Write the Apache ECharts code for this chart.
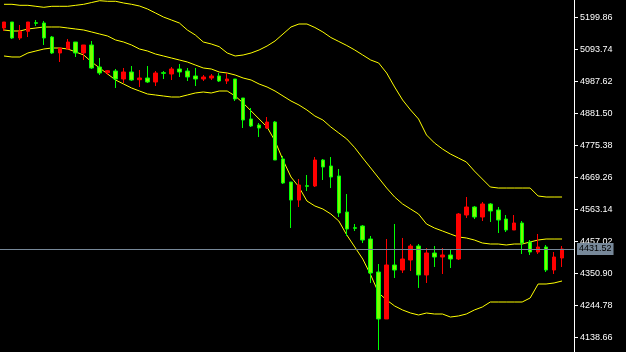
<!DOCTYPE html>
<html>
<head>
<meta charset="utf-8">
<script src="https://cdn.jsdelivr.net/npm/echarts@6/dist/echarts.min.js"></script>
<style>
html,body{margin:0;padding:0;background:#000;}
#chart{width:626px;height:352px;}
</style>
</head>
<body>
<div id="chart"></div>
<script>
// ---- data ----
const opens = [5164.3,5184.2,5131.2,5153.4,5181.9,5180.9,5134.5,5081.5,5094.7,5117.9,
5081.5,5108.0,5035.0,5016.1,5021.7,4995.2,5018.4,4992.9,4998.5,4985.3,
5016.1,5011.8,5028.4,5021.7,5005.2,4995.2,4998.5,5005.2,4988.6,4995.2,
4932.2,4862.6,4842.7,4832.7,4852.6,4729.9,4653.7,4593.8,4641.4,4640.4,
4726.6,4706.7,4673.5,4554.1,4502.1,4507.7,4464.6,4355.2,4199.4,4378.4,
4361.8,4395.0,4441.4,4345.3,4418.2,4404.9,4411.6,4398.3,4544.2,4570.7,
4537.6,4580.7,4560.8,4530.9,4494.5,4517.7,4454.7,4421.5,4438.1,4361.8,
4401.6];
const closes = [5184.2,5131.2,5153.4,5184.2,5179.9,5131.2,5081.5,5098.0,5117.9,5081.5,
5108.0,5031.7,5015.1,5022.7,4995.2,5018.4,4991.9,4998.5,4985.3,5015.1,
5014.1,5028.4,5018.4,5001.9,4995.2,5001.9,5005.2,4988.6,4995.2,4928.9,
4859.3,4839.4,4832.7,4852.6,4726.6,4650.3,4593.8,4643.7,4639.4,4726.6,
4703.4,4670.2,4550.8,4497.8,4500.1,4461.3,4351.9,4199.4,4378.4,4361.8,
4398.3,4441.4,4345.3,4418.2,4404.9,4411.6,4398.3,4547.5,4570.7,4537.6,
4580.7,4557.5,4527.6,4494.5,4517.7,4451.4,4421.5,4438.1,4361.8,4404.9,
4431.52];
const lows = [5154.4,5127.9,5124.6,5134.5,5171.0,5108.0,5078.1,5051.6,5094.7,5068.2,
5058.2,5028.4,5008.5,5008.5,4965.4,4981.9,4988.6,4968.7,4981.9,4972.0,
4995.2,4991.9,5001.9,4988.6,4972.0,4988.6,4991.9,4985.3,4978.6,4922.3,
4832.7,4836.0,4802.9,4829.4,4726.6,4647.0,4501.1,4570.7,4623.8,4637.1,
4660.3,4633.7,4537.6,4474.6,4491.2,4451.4,4318.8,4096.5,4199.4,4335.3,
4351.9,4358.5,4302.3,4318.8,4371.8,4348.6,4368.5,4395.0,4534.3,4530.9,
4524.3,4521.0,4484.5,4487.8,4494.5,4414.9,4411.6,4414.9,4355.2,4348.6,
4371.8];
const highs = [5184.2,5184.2,5174.3,5184.2,5190.9,5187.6,5137.8,5098.0,5127.9,5117.9,
5108.0,5121.2,5064.9,5025.1,5028.4,5031.7,5038.3,5025.1,5038.3,5021.7,
5021.7,5035.0,5045.0,5031.7,5031.7,5008.5,5011.8,5015.1,5015.1,4995.2,
4932.2,4899.1,4849.3,4869.2,4855.9,4739.9,4653.7,4663.6,4676.9,4736.5,
4729.9,4736.5,4696.8,4613.8,4514.4,4511.0,4474.6,4381.7,4464.6,4514.4,
4468.0,4448.0,4448.0,4434.8,4441.4,4434.8,4428.1,4550.8,4603.9,4574.1,
4587.3,4584.0,4570.7,4544.2,4544.2,4524.3,4461.3,4481.2,4444.7,4421.5,
4441.4];
const upperBand = [5242.9,5242.9,5239.6,5239.6,5236.3,5233.0,5236.3,5236.3,5236.3,5239.6,
5242.9,5248.9,5254.9,5252.9,5252.9,5247.3,5242.9,5237.3,5227.4,5214.1,
5200.8,5190.9,5180.9,5157.7,5141.1,5117.9,5111.3,5102.4,5081.5,5071.5,
5074.8,5081.5,5091.4,5104.7,5121.2,5144.4,5167.7,5177.6,5177.6,5166.0,
5151.1,5132.8,5119.6,5106.3,5091.4,5074.8,5058.2,5048.3,5015.1,4968.7,
4925.6,4892.4,4862.6,4809.5,4783.0,4763.1,4746.5,4733.2,4719.9,4690.1,
4663.6,4637.1,4633.7,4633.7,4633.7,4633.7,4633.7,4607.2,4603.9,4603.9,
4603.9];
const middleBand = [5157.7,5154.4,5154.4,5161.0,5164.3,5167.7,5167.7,5167.7,5164.3,5161.0,
5157.7,5151.1,5144.4,5137.8,5124.6,5117.9,5108.0,5094.7,5088.1,5078.1,
5071.5,5064.9,5058.2,5051.6,5041.6,5031.7,5028.4,5018.4,5015.1,5008.5,
4998.5,4991.9,4978.6,4968.7,4955.4,4938.8,4922.3,4909.0,4892.4,4872.5,
4859.3,4836.0,4816.1,4796.2,4767.4,4733.2,4700.1,4666.9,4633.7,4603.9,
4580.7,4564.1,4547.5,4514.4,4501.1,4491.2,4481.2,4471.3,4468.0,4461.3,
4451.4,4448.0,4448.0,4444.7,4448.0,4448.0,4454.7,4461.3,4464.6,4464.6,
4464.6];
const lowerBand = [5071.5,5068.2,5068.2,5081.5,5088.1,5094.7,5098.0,5098.0,5094.7,5084.8,
5074.8,5051.6,5031.7,5011.8,4991.9,4978.6,4965.4,4955.4,4945.5,4942.2,
4938.8,4935.5,4935.5,4942.2,4948.8,4952.1,4948.8,4955.4,4955.4,4938.8,
4915.6,4889.1,4862.6,4836.0,4789.6,4726.6,4670.2,4637.1,4590.6,4574.1,
4564.1,4547.5,4524.3,4477.9,4438.1,4398.3,4345.3,4285.5,4262.4,4242.5,
4229.2,4219.2,4212.6,4219.2,4215.9,4215.9,4205.9,4209.3,4215.9,4229.2,
4239.1,4255.7,4255.7,4255.7,4255.7,4255.7,4269.0,4315.4,4315.4,4318.8,
4325.4];
const tickValues = [5199.86,5093.74,4987.62,4881.50,4775.38,4669.26,4563.14,4457.02,4350.90,4244.78,4138.66];
const lastPrice = 4431.52;
const categories = opens.map((_, i) => String(i + 1));

// ---- chart ----
const candleData = opens.map((o, i) => [o, closes[i], lows[i], highs[i]]);
const chart = echarts.init(document.getElementById('chart'), null, {renderer: 'canvas'});
const bandLine = (name, data) => ({
  name, type: 'line', data, symbol: 'none', smooth: false, silent: true,
  lineStyle: {color: '#ffff00', width: 1}, z: 1
});
chart.setOption({
  backgroundColor: '#000000',
  animation: false,
  grid: {left: 0, right: 52, top: 0, bottom: 0},
  xAxis: {
    type: 'category', data: categories, boundaryGap: true, max: 71,
    axisLine: {show: false}, axisTick: {show: false}, axisLabel: {show: false}, splitLine: {show: false}
  },
  yAxis: {
    type: 'value', position: 'right', min: 4089.9, max: 5257.2, scale: true,
    splitLine: {show: false},
    axisLine: {show: true, lineStyle: {color: '#ffffff', width: 1}},
    axisTick: {show: true, customValues: tickValues, length: 4, lineStyle: {color: '#ffffff'}},
    axisLabel: {
      show: true, customValues: tickValues, margin: 6, color: '#ffffff',
      fontFamily: 'Liberation Sans, Arial, sans-serif', fontSize: 9,
      formatter: v => v.toFixed(2)
    }
  },
  series: [
    bandLine('Upper', upperBand),
    bandLine('Middle', middleBand),
    bandLine('Lower', lowerBand),
    {
      name: 'Price', type: 'candlestick', data: candleData, barWidth: 4, z: 3,
      itemStyle: {
        color: '#ff0000', borderColor: '#ff0000',
        color0: '#7cfc00', borderColor0: '#00ff00', borderWidth: 1
      },
      markLine: {
        silent: true, symbol: ['none', 'none'], animation: false, z: 10,
        lineStyle: {color: '#778899', type: 'solid', width: 1},
        label: {
          show: true, position: 'end', distance: 3,
          formatter: () => lastPrice.toFixed(2),
          backgroundColor: '#778899', color: '#000000',
          fontFamily: 'Liberation Sans, Arial, sans-serif', fontSize: 9,
          padding: [2, 2, 1, 2]
        },
        emphasis: {disabled: true},
        data: [{yAxis: lastPrice}]
      }
    }
  ]
});
</script>
</body>
</html>
